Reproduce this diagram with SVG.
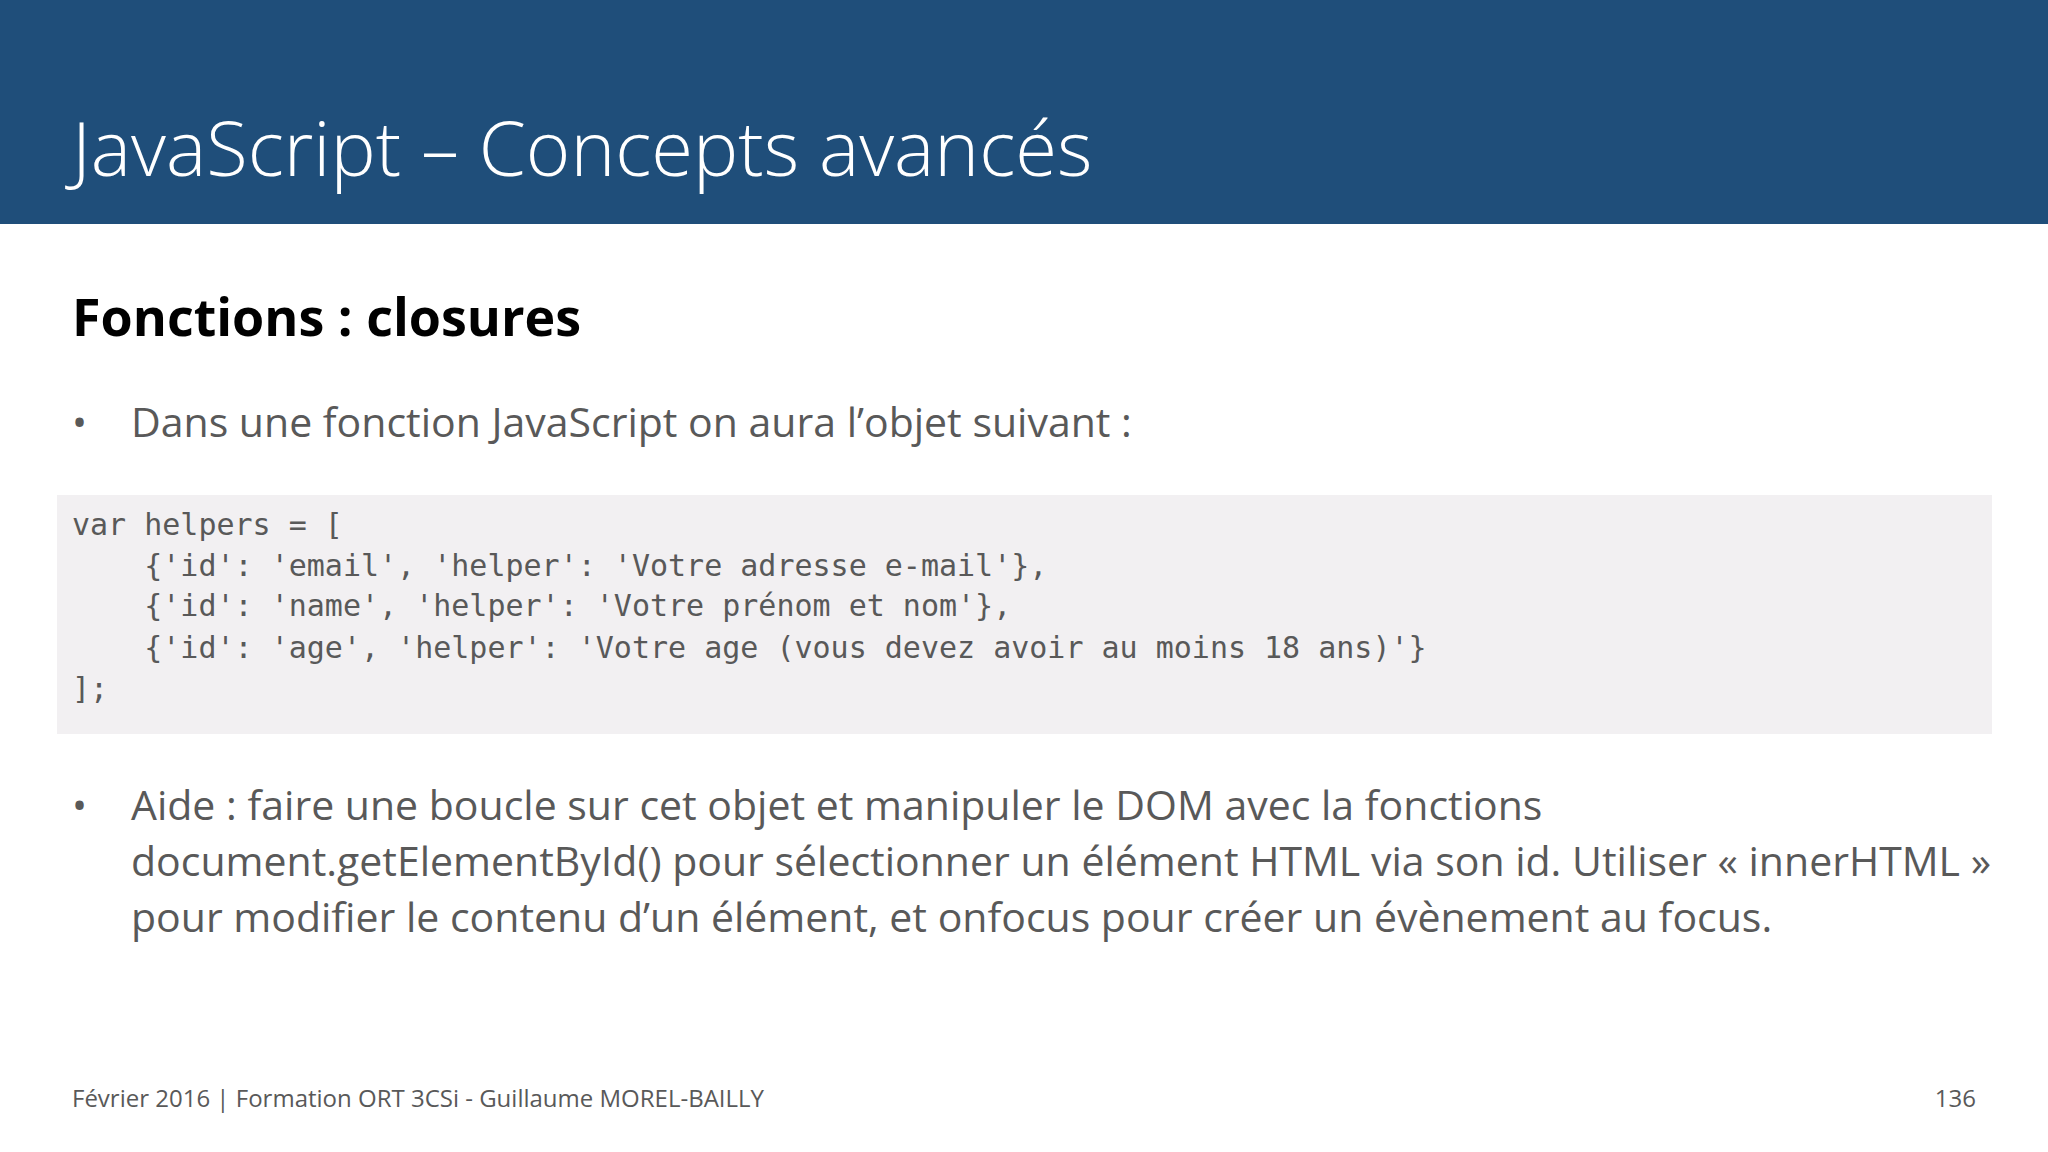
<svg xmlns="http://www.w3.org/2000/svg" width="2048" height="1152" viewBox="0 0 2048 1152">
<style>
.s{font-family:"Open Sans","Noto Sans","Liberation Sans",sans-serif;fill:#595959}
.c{font-family:"DejaVu Sans Mono","Liberation Mono",monospace;font-size:30px;fill:#595959;white-space:pre}
</style>
<rect width="2048" height="1152" fill="#ffffff"/>
<rect width="2048" height="224" fill="#1f4e7a"/>
<text x="72" y="176" font-family="Open Sans,Noto Sans,sans-serif" font-size="76" font-weight="300" fill="#ffffff">JavaScript – Concepts avancés</text>
<text x="72" y="336" font-family="Open Sans,Noto Sans,sans-serif" font-size="52" font-weight="bold" fill="#000000">Fonctions : closures</text>
<text class="s" x="72" y="437" font-size="40">•</text>
<text class="s" x="131" y="437" font-size="41">Dans une fonction JavaScript on aura l’objet suivant :</text>
<rect x="57" y="495" width="1935" height="239" fill="#f2f0f2"/>
<text class="c" x="72" y="535">var helpers = [</text>
<text class="c" x="72" y="576">    {'id': 'email', 'helper': 'Votre adresse e-mail'},</text>
<text class="c" x="72" y="616">    {'id': 'name', 'helper': 'Votre prénom et nom'},</text>
<text class="c" x="72" y="658">    {'id': 'age', 'helper': 'Votre age (vous devez avoir au moins 18 ans)'}</text>
<text class="c" x="72" y="699">];</text>
<text class="s" x="72" y="820" font-size="40">•</text>
<text class="s" x="131" y="820" font-size="41">Aide : faire une boucle sur cet objet et manipuler le DOM avec la fonctions</text>
<text class="s" x="131" y="876" font-size="41">document.getElementById() pour sélectionner un élément HTML via son id. Utiliser « innerHTML »</text>
<text class="s" x="131" y="932" font-size="41">pour modifier le contenu d’un élément, et onfocus pour créer un évènement au focus.</text>
<text class="s" x="72" y="1107" font-size="24">Février 2016  |  Formation ORT 3CSi - Guillaume MOREL-BAILLY</text>
<text class="s" x="1976" y="1107" font-size="24" text-anchor="end">136</text>
</svg>
